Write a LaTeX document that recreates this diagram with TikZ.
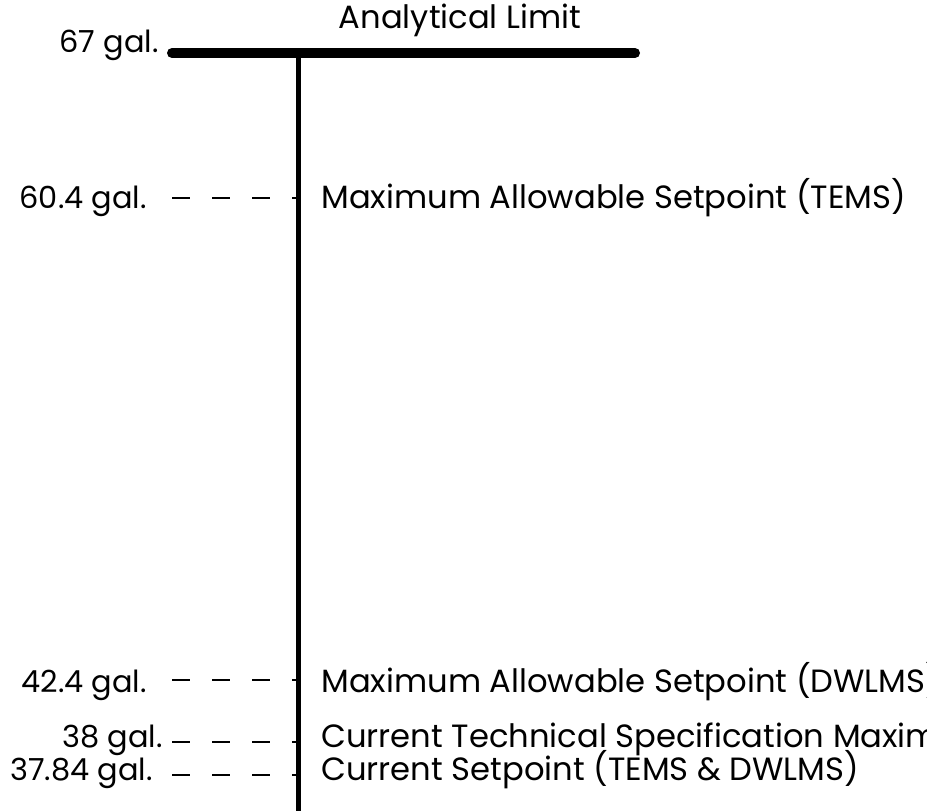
\documentclass[tikz,border=0pt]{standalone}
\usepackage{fontspec}
\setmainfont{Poppins}
\usepackage{tikz}

\tikzset{
  lbl/.style={inner sep=0pt, font=\fontsize{15.2}{18}\selectfont},
  desc/.style={inner sep=0pt, font=\fontsize{16.1}{18}\selectfont},
  level/.style={line width=1pt, dash pattern=on 9pt off 11pt},
}

\begin{document}
\begin{tikzpicture}[x=0.5pt,y=-0.5pt]
\useasboundingbox (0,0) rectangle (927,810);
\clip (0,0) rectangle (927,810);
% limit bar and axis
\coordinate (barL) at (172,53);
\coordinate (barR) at (635,53);
\coordinate (axtop) at (298,53);
\coordinate (axbot) at (298,815);
\draw[line width=5pt, line cap=round] (barL) -- (barR);
\draw[line width=2.5pt] (axtop) -- (axbot);
\node[desc, anchor=base] (alim) at (460,28) {Analytical Limit};
\node[lbl, anchor=base east] (v67) at (159,52) {67 gal.};
% setpoints
\node[lbl, anchor=base east] (v604) at (147,208) {60.4 gal.};
\node[desc, anchor=base west] (d604) at (321,208) {Maximum Allowable Setpoint (TEMS)};
\node[lbl, anchor=base east] (v424) at (147,692) {42.4 gal.};
\node[desc, anchor=base west] (d424) at (321,692) {Maximum Allowable Setpoint (DWLMS)};
\node[lbl, anchor=base east] (v38) at (163,747) {38 gal.};
\node[desc, anchor=base west] (d38) at (321,747) {Current Technical Specification Maximum};
\node[lbl, anchor=base east] (v3784) at (153,780) {37.84 gal.};
\node[desc, anchor=base west] (d3784) at (321,780) {Current Setpoint (TEMS \& DWLMS)};
\coordinate (s604) at (172,198);
\coordinate (s424) at (172,680);
\coordinate (s38) at (172,742);
\coordinate (s3784) at (172,775);
\draw[level] (s604) -- (s604 -| axtop);
\draw[level] (s424) -- (s424 -| axtop);
\draw[level] (s38) -- (s38 -| axtop);
\draw[level] (s3784) -- (s3784 -| axtop);
\end{tikzpicture}
\end{document}
